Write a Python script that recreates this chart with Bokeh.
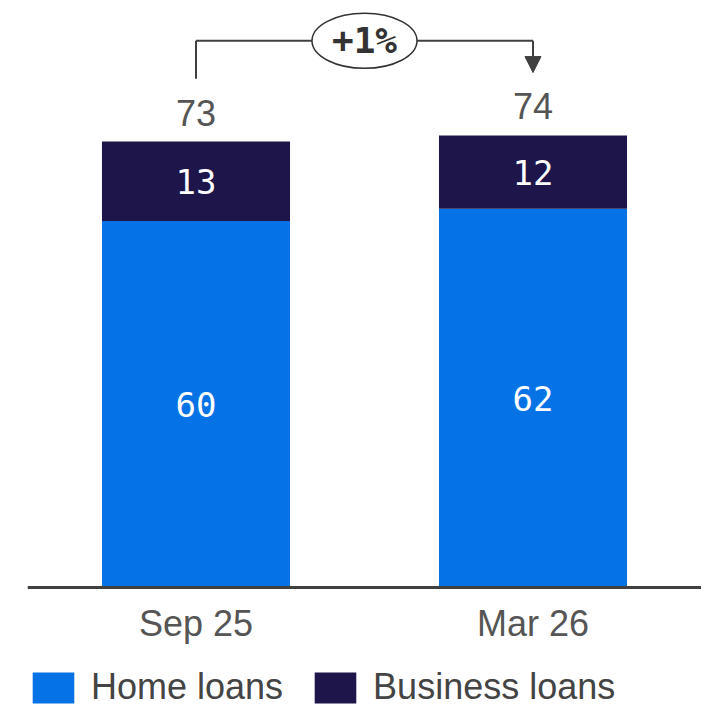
from bokeh.plotting import figure
from bokeh.models import (FactorRange, Range1d, Legend, LegendItem, Arrow, NormalHead,
                          ColumnDataSource, CategoricalAxis)
from bokeh.core.properties import value
from bokeh.embed import file_html
from bokeh.resources import INLINE

# ---- data ----
categories = ["Sep 25", "Mar 26"]
home_loans = [60, 62]
business_loans = [13, 12]
series_names = ["Home loans", "Business loans"]
change_label = "+1%"

BLUE = "#0572E6"
NAVY = "#1E164B"
GREY = "#555555"
DARK = "#404040"

totals = [h + b for h, b in zip(home_loans, business_loans)]
src = ColumnDataSource(dict(
    cat=categories,
    home=home_loans,
    business=business_loans,
    home_mid=[h / 2 for h in home_loans],
    bus_mid=[h + b / 2 for h, b in zip(home_loans, business_loans)],
    home_txt=[str(v) for v in home_loans],
    bus_txt=[str(v) for v in business_loans],
    total=totals,
    total_txt=[str(v) for v in totals],
))

p = figure(
    x_range=FactorRange(*categories, range_padding=0, factor_padding=0),
    y_range=Range1d(-19.81, 96.1),
    width=701, height=708,
    output_backend="svg", toolbar_location=None,
    x_axis_location=None, y_axis_location=None,
    min_border_left=27, min_border_right=0, min_border_top=0, min_border_bottom=0,
)
p.outline_line_color = None
p.xgrid.visible = False
p.ygrid.visible = False

rs = p.vbar_stack(["home", "business"], x="cat", width=0.558, color=[BLUE, NAVY],
                  line_color=None, source=src)

num_font = value("DejaVu Sans Mono")
p.text(x="cat", y="home_mid", text="home_txt", source=src, text_align="center",
       text_baseline="middle", text_color="white", text_font=num_font, text_font_size="34px")
p.text(x="cat", y="bus_mid", text="bus_txt", source=src, text_align="center",
       text_baseline="middle", text_color="white", text_font=num_font, text_font_size="34px")
p.text(x="cat", y="total", text="total_txt", source=src, text_align="center",
       text_baseline="alphabetic", y_offset=-29, text_color=GREY,
       text_font=value("Liberation Sans"), text_font_size="36px")

# ---- change bracket ----
centers = [i + 0.5 for i in range(len(categories))]
gap = 10.3
line_y = max(totals) + 15.5
p.segment(x0=[centers[0]], y0=[totals[0] + gap], x1=[centers[0]], y1=[line_y],
          line_color=DARK, line_width=2)
p.segment(x0=[centers[0]], y0=[line_y], x1=[centers[1]], y1=[line_y],
          line_color=DARK, line_width=2)
p.add_layout(Arrow(end=NormalHead(size=16, fill_color=DARK, line_color=DARK, line_width=1),
                   x_start=centers[1], y_start=line_y, x_end=centers[1], y_end=totals[1] + gap,
                   line_color=DARK, line_width=2))
mid_x = sum(centers) / len(centers)
p.ellipse(x=[mid_x], y=[line_y], width=105, height=55, width_units="screen",
          height_units="screen", fill_color="white", line_color="#333333", line_width=1.5)
p.text(x=[mid_x], y=[line_y], text=[change_label], text_align="center", text_baseline="middle",
       text_color="#333333", text_font=num_font, text_font_size="36px", text_font_style="bold")

# ---- axis at zero ----
ax = CategoricalAxis(fixed_location=0)
ax.axis_line_color = DARK
ax.axis_line_width = 3
ax.major_tick_line_color = None
ax.minor_tick_line_color = None
ax.major_tick_out = 0
ax.major_tick_in = 0
ax.major_label_standoff = 16
ax.major_label_text_font = "Liberation Sans"
ax.major_label_text_font_size = "36px"
ax.major_label_text_color = GREY
p.add_layout(ax, "below")

legend = Legend(items=[LegendItem(label=series_names[0], renderers=[rs[0]]),
                       LegendItem(label=series_names[1], renderers=[rs[1]])],
                orientation="horizontal", location=(0, 0),
                glyph_width=52, glyph_height=39, label_standoff=12, spacing=26,
                padding=0, margin=0, border_line_color=None, background_fill_alpha=0,
                label_text_font="Liberation Sans", label_text_font_size="36px",
                label_text_color="#444444", label_height=39)
p.add_layout(legend, "center")

open("out.html", "w").write(file_html(p, INLINE))
